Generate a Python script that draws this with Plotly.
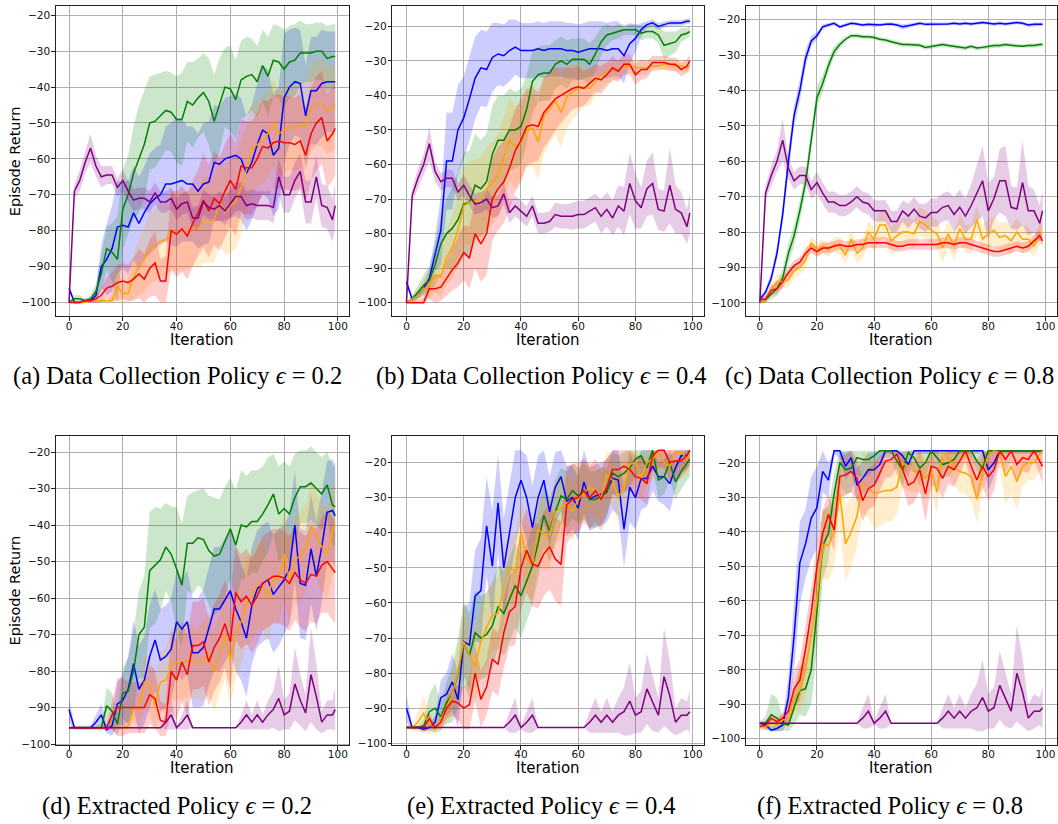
import plotly.graph_objects as go

# ---------------- data ----------------
ITER = list(range(0, 99, 2)) + [99]   # 51 iterations sampled

# (a) Data Collection Policy eps=0.2
A_BLUE = [-96, -100, -100, -99.5, -99.5, -98, -90, -88, -85, -79, -78.5, -79, -75, -78, -75,
          -72.5, -71, -70, -67, -67, -66.5, -66, -67, -67, -69, -67, -66.5, -61, -61.5, -60,
          -59.5, -59, -60, -64, -61, -56, -52, -53, -59, -57, -43, -40, -38.5, -39, -48,
          -41, -41, -39, -38.5, -38.5, -38.5]
A_BLUE_SD = [1, 0.5, 0.5, 0.5, 1, 2, 6, 10, 12, 13, 12, 13, 13, 13, 13, 14, 14, 14, 16, 17,
             18, 17, 16, 16, 16, 17, 17, 16, 16, 17, 17, 17, 17, 16, 16, 17, 18, 18, 17, 17,
             18, 16, 15, 15, 14, 15, 15, 15, 14, 14, 14]
A_GREEN = [-100, -99, -99, -99.5, -99, -97, -92, -85, -86, -88, -74, -70, -64, -60, -56,
           -50, -49.5, -48, -46.5, -47, -49, -49, -44, -45, -43, -41.5, -44, -49.5, -45, -40,
           -40.5, -43.5, -38, -37, -36.5, -38.5, -34, -37, -32.5, -33, -35, -33, -32.5, -30.5, -30.5,
           -30.5, -30, -30, -32, -31.5, -31.5]
A_GREEN_SD = [0.5, 1, 1, 0.5, 1, 2, 5, 6, 8, 12, 11, 11, 13, 15, 15, 13, 13, 12, 11, 11,
              12, 13, 11, 12, 11, 11, 12, 13, 13, 11, 12, 11, 11, 11, 10, 10, 10, 11, 10, 10,
              11, 10, 10, 9, 8, 8, 8, 8, 9, 9, 9]
A_ORANGE = [-100, -100, -100, -100, -99.5, -99.5, -99.5, -99.5, -99.5, -95.5, -97.5, -97.5, -93, -90, -88,
            -85, -84, -83, -82.5, -80, -80.5, -80, -80, -79, -79.5, -77, -77, -77, -72, -75,
            -73, -72, -68, -63, -57, -56, -55, -53, -50, -53, -52, -51, -51.5, -50.5, -51,
            -46, -44.5, -44.5, -46.5, -46, -45]
A_ORANGE_SD = [0.3, 0.3, 0.3, 0.3, 0.5, 0.5, 0.5, 0.5, 1, 4, 3, 4, 6, 8, 9, 10, 10, 10, 10, 11,
               11, 11, 11, 11, 11, 12, 12, 12, 12, 12, 13, 13, 13, 12, 12, 12, 12, 12, 12, 12,
               12, 12, 12, 12, 12, 12, 12, 12, 12, 12, 12]
A_RED = [-100, -100, -100, -99.5, -99.5, -99, -98, -96, -95.5, -94.5, -94, -94.5, -93.5, -92, -93.5,
         -90.5, -89, -94, -94, -80, -81, -79.5, -81.5, -78, -75, -71.5, -74.5, -71, -72.5, -69,
         -66, -68.5, -62, -62.5, -62.5, -60, -56.5, -57, -55.5, -55, -55.5, -55.5, -56, -55, -59,
         -53, -50, -48.5, -55, -53, -51.5]
A_RED_SD = [0.3, 0.3, 0.3, 0.5, 0.5, 1, 2, 3, 4, 5, 5, 5, 6, 7, 7, 8, 9, 6, 7, 11,
            12, 12, 12, 12, 12, 13, 13, 13, 13, 13, 13, 13, 13, 13, 13, 13, 13, 13, 13, 13,
            13, 13, 13, 13, 13, 13, 13, 13, 13, 13, 13]
A_PURPLE = [-100, -69, -66, -61, -57, -62, -65, -64.5, -64.5, -68, -66, -69, -71.5, -71, -71,
            -72, -69.5, -72, -72, -71, -74, -72.5, -72, -76.5, -76.5, -72, -73.5, -74, -73, -74.5,
            -72.5, -70.5, -70.5, -73, -72.5, -73, -73, -73, -73.5, -65, -70, -70, -66, -63.5, -72,
            -72, -65, -73, -73.5, -77, -73]
A_PURPLE_SD = [0.5, 2, 3, 3, 4, 3, 3, 2.5, 2.5, 2.5, 3, 3, 3, 3, 3, 3, 3, 3, 3, 3,
               3, 3, 3, 3, 3.5, 3.5, 3.5, 3.5, 4, 4, 4, 4, 4, 4, 4, 4, 4, 4, 4.5, 5,
               5, 5, 5, 5, 6, 6, 6, 6, 6, 6, 6]

# (b) Data Collection Policy eps=0.4
B_BLUE = [-94, -99, -98, -96, -93, -86, -79, -59, -59, -50, -46.5, -41, -35, -32, -32.5,
          -29, -28, -28.5, -27, -26, -27, -27, -27, -26.5, -27, -26.5, -26.5, -26.5, -27, -27,
          -27.5, -27, -26.5, -26.5, -26.5, -27, -26.5, -26.5, -28.5, -25, -23.5, -21, -19.5, -19, -20,
          -19.5, -19, -19, -19, -18.5, -18.5]
B_BLUE_SD = [1, 1, 1, 1.5, 3, 5, 10, 14, 14, 13, 12, 12, 12, 11, 11, 10, 9, 9, 9, 8,
             8, 8, 8, 8, 8, 8, 8, 8, 8, 8, 8, 8, 8, 8, 8, 8, 8, 8, 8, 6,
             4, 2, 1, 1, 1, 0.8, 0.8, 0.8, 0.8, 0.8, 0.8]
B_GREEN = [-100, -99, -97, -95, -93.5, -89, -83, -80, -78.5, -76, -71.5, -71, -66, -67, -65,
           -57, -53, -53, -50, -50, -49, -44, -36, -34, -33.5, -33.5, -31, -30, -31, -29.5,
           -29.5, -29.5, -31, -28, -24.5, -22.5, -22, -21.5, -21, -21, -21, -22, -21.5, -21.5, -22.5,
           -25.5, -25, -24.5, -22.5, -22, -21.5]
B_GREEN_SD = [0.5, 1, 2, 3, 4, 6, 8, 10, 12, 14, 15, 15, 15, 14, 14, 14, 13, 13, 12, 11,
              11, 10, 9, 8, 8, 8, 7, 7, 7, 6, 6, 6, 6, 5, 4, 3, 2, 2, 1.5, 1.5,
              1.5, 2, 2, 2, 2.5, 4, 3.5, 3, 2, 1.5, 1.5]
B_ORANGE = [-100, -99, -98, -96, -95, -92, -92.5, -87, -84, -79, -72, -71, -70.5, -70, -67,
            -65.5, -63, -58, -53, -55, -53.5, -50, -49.5, -53.5, -46, -44, -41.5, -45, -40.5, -39,
            -38, -37.5, -38, -36, -34, -33.5, -33, -32.5, -31.5, -31.5, -32, -32, -32, -31.5, -31.5,
            -31, -31, -31.5, -31.5, -32, -31.5]
B_ORANGE_SD = [0.5, 1, 2, 3, 4, 5, 6, 8, 9, 10, 11, 12, 12, 12, 12, 12, 12, 12, 12, 12,
               11, 11, 11, 11, 11, 10, 10, 10, 9, 8, 7, 6, 5, 4, 4, 3, 3, 2.5, 2, 2,
               2, 2, 2, 1.5, 1.5, 1.5, 1.5, 1.5, 1.5, 1.5, 1.5]
B_RED = [-100, -100, -100, -100, -96, -96, -95.5, -93, -90.5, -88.5, -85.5, -87, -80, -83, -80,
         -70, -67, -65, -61, -56, -53, -49, -48.5, -49, -45, -43, -41, -40, -39, -38,
         -37.5, -38, -36.5, -35, -35.5, -34, -32, -33, -31, -31, -34, -32.5, -32.5, -30.5, -30.5,
         -30.5, -31, -31, -32.5, -31.5, -30]
B_RED_SD = [0.3, 0.3, 0.5, 1.5, 3, 4, 4, 5, 6, 7, 8, 9, 10, 11, 12, 12, 12, 12, 12, 12,
            12, 11, 11, 10, 10, 10, 9, 8, 7, 6, 6, 5, 4.5, 4, 4, 3.5, 3.5, 3, 3, 3,
            3, 3, 2.5, 2, 2, 2, 2, 2, 2, 2, 2]
B_PURPLE = [-100, -69, -64, -60, -54, -62, -65, -64, -64, -68, -66, -69, -71.5, -71, -70,
            -72.5, -72, -68.5, -74, -72, -73.5, -75, -72, -77, -77, -76.5, -74.5, -75, -75, -75,
            -74.5, -74.5, -73.5, -72.5, -75, -73, -75.5, -72, -73.5, -65.5, -70.5, -72.5, -67, -65.5, -73,
            -73.5, -66, -73, -74, -78, -74]
B_PURPLE_SD = [0.5, 2, 3, 3, 5, 3, 2.5, 2.5, 2.5, 2.5, 3, 3, 3, 3, 3, 3, 3, 3, 3, 3,
               3, 3, 3, 3, 3, 3, 3.5, 3.5, 3.5, 4, 4, 4, 4, 4, 5, 5, 5, 6, 7, 9,
               8, 6, 8, 9, 6, 6, 11, 7, 6, 5, 6]

# (c) Data Collection Policy eps=0.8
C_BLUE = [-99, -97, -93, -86, -75, -60, -47, -40, -31, -26, -24.5, -22, -21.5, -21, -22,
          -21.5, -21, -21.2, -21.5, -21.3, -21.5, -21.5, -21.3, -21.2, -21.5, -22, -21.7, -21.3, -21, -21.3,
          -21.3, -21.2, -21.2, -21.2, -21, -21.2, -21, -21.2, -21, -20.8, -21, -21.2, -21, -21.2, -21,
          -20.8, -21, -21.5, -21.3, -21.3, -21.3]
C_BLUE_SD = [0.5, 1, 1.5, 2, 2.5, 3, 3, 3, 2.5, 1.5, 1, 0.7, 0.5, 0.5, 0.5, 0.5, 0.5, 0.5, 0.5, 0.5,
             0.5, 0.5, 0.5, 0.5, 0.5, 0.8, 0.6, 0.5, 0.5, 0.5, 0.5, 0.5, 0.5, 0.5, 0.5, 0.5, 0.5, 0.5, 0.5, 0.5,
             0.5, 0.5, 0.5, 0.5, 0.5, 0.5, 0.5, 0.5, 0.5, 0.5, 0.5]
C_GREEN = [-100, -99, -97.5, -96, -93, -86, -81, -74, -66, -54, -42, -38, -33, -29, -27,
           -25.5, -24.5, -24.5, -24.8, -24.8, -25, -25.5, -25.7, -26.2, -26.7, -27, -27, -27.2, -27.2, -27.8,
           -27.5, -27.3, -27, -27.3, -27.6, -27.8, -28, -27.5, -28, -27.8, -27.5, -27.3, -27.3, -27, -27.2,
           -27.3, -27.5, -27.3, -27.3, -27, -27]
C_GREEN_SD = [0.5, 1, 1.5, 2, 2.5, 3, 3, 3, 3, 3, 3, 2.5, 2, 1.5, 1, 0.7, 0.6, 0.6, 0.6, 0.6,
              0.6, 0.6, 0.6, 0.6, 0.6, 0.6, 0.6, 0.6, 0.6, 0.6, 0.6, 0.6, 0.6, 0.6, 0.6, 0.6, 0.6, 0.6, 0.6, 0.6,
              0.6, 0.6, 0.6, 0.6, 0.6, 0.6, 0.6, 0.6, 0.6, 0.6, 0.6]
C_ORANGE = [-100, -99, -96, -94, -94, -93.5, -91, -90, -88, -83, -85, -84, -85, -83.5, -84,
            -86.5, -82, -86, -84.5, -80, -82, -78, -78, -82.5, -81, -80, -80, -80.5, -77, -78,
            -79.5, -80.5, -84.5, -80.5, -84, -79, -82, -82, -76.5, -82, -80.5, -79.5, -81.5, -81, -82.5,
            -80, -82, -82, -84, -80.5, -80]
C_ORANGE_SD = [0.5, 1, 2, 2, 2, 2, 2, 2, 2.5, 2, 2, 2, 2, 2, 2.5, 2.5, 2.5, 3, 3, 3,
               3.5, 4, 4, 4, 4, 4, 4, 4, 4, 4, 4, 4, 4, 4, 4, 4, 4, 4, 4, 4,
               4, 4, 4, 4, 4, 4, 4, 3.5, 3, 3, 3]
C_RED = [-99, -99, -96.5, -96, -94, -91.5, -89.5, -88.5, -86, -84.5, -85.5, -84.5, -84.5, -84, -83.5,
         -84, -84, -83.5, -83.5, -83, -83, -83, -83, -83.5, -84, -84, -83.5, -83.5, -83.5, -83.5,
         -83.5, -83.5, -83, -83, -83.5, -83, -83, -83.5, -84, -84.5, -85, -85.5, -85.5, -85, -84.5,
         -84, -84.5, -84, -82.5, -81, -82.5]
C_RED_SD = [0.5, 1, 1.5, 1.5, 1.5, 1.5, 1.5, 1.5, 1.5, 1.5, 1.5, 1.5, 1.5, 1.5, 1.5, 1.5, 1.5, 1.5, 1.5, 1.5,
            1.5, 1.5, 1.5, 1.5, 1.5, 1.5, 1.5, 1.5, 1.5, 1.5, 1.5, 1.5, 1.5, 1.5, 1.5, 1.5, 1.5, 1.5, 1.5, 1.5,
            1.5, 1.5, 1.5, 1.5, 1.5, 1.5, 1.5, 1.5, 1.5, 1.5, 1.5]
C_PURPLE = [-100, -69, -64, -60, -54, -62, -65.5, -64, -64, -68, -66, -69, -71.5, -71.5, -72.5,
            -72.5, -71.5, -70, -71.5, -72, -74, -74, -74, -77, -77, -74, -75.5, -73.5, -75.5, -76,
            -74.5, -74.5, -73, -72.5, -75, -73, -75.5, -72.5, -69, -65.5, -74, -70.5, -65.5, -65.5, -73,
            -73.5, -66, -74, -74, -77.5, -74]
C_PURPLE_SD = [0.5, 2, 3, 3, 6, 3, 2.5, 2.5, 2.5, 2.5, 3, 3, 3, 3, 3, 3, 3, 3, 3, 3,
               3, 3, 3, 3, 3, 3, 3.5, 3.5, 3.5, 4, 4, 4, 4, 4, 5, 5, 5, 6, 8, 10,
               8, 6, 9, 10, 6, 6, 12, 7, 6, 5, 6]

# (d) Extracted Policy eps=0.2
D_BLUE = [-90.5, -95.5, -95.5, -95.5, -95.5, -94, -92, -96, -95, -89, -88, -85, -78, -85, -82.5,
          -76, -71.5, -77, -76, -74, -66.5, -68.5, -66.5, -75, -75, -73.5, -68, -63, -63, -60.5,
          -58, -63, -66.5, -71, -62, -57.5, -56, -55, -59, -57, -55, -52, -40, -56, -56.5,
          -46.5, -54, -46, -36.5, -36, -37.5]
D_BLUE_SD = [3.5, 0.5, 0.5, 0.5, 0.5, 2, 3, 1, 3, 6, 7, 9, 12, 12, 12, 14, 14, 14, 14, 14,
             14, 14, 14, 15, 15, 16, 16, 17, 17, 17, 17, 17, 16, 16, 16, 16, 16, 16, 16, 16,
             15, 15, 15, 15, 15, 15, 15, 15, 14, 14, 14]
D_GREEN = [-95.5, -95.5, -95.5, -95.5, -95.5, -95.5, -95.5, -89.5, -91, -94.5, -86, -85.5, -80, -70, -68,
           -52.5, -51, -49.5, -46, -48, -52, -56.5, -45, -45, -43.5, -44, -47, -48.5, -48, -44.5,
           -41, -45.5, -40, -40.5, -39, -39, -37, -34.5, -31.5, -37, -35.5, -37, -32.5, -29.5, -29.5,
           -28.5, -30, -31.5, -29, -34.5, -35]
D_GREEN_SD = [0.5, 0.5, 0.5, 0.5, 0.5, 0.5, 1, 5, 5, 3, 7, 9, 11, 12, 14, 16, 16, 14, 12, 13,
              17, 17, 13, 14, 13, 14, 15, 16, 15, 15, 14, 15, 15, 14, 14, 14, 13, 13, 11, 13,
              13, 13, 12, 10, 10, 10, 10, 10, 9, 11, 11]
D_ORANGE = [-95.5, -95.5, -95.5, -95.5, -95.5, -95.5, -95.5, -95.5, -95.5, -95.5, -95.5, -95, -90.5, -90.5, -83,
            -83.5, -89.5, -83, -82.5, -78.5, -77.5, -78, -77, -77.5, -78, -77, -75.5, -80, -75.5, -70,
            -77, -70, -66.5, -61, -60, -56.5, -56.5, -60, -54, -55, -48, -55, -49.5, -48.5, -46.5,
            -40, -43, -46, -48, -42, -40]
D_ORANGE_SD = [0.3, 0.3, 0.3, 0.3, 0.3, 0.3, 0.3, 0.3, 0.3, 0.3, 0.5, 1, 3, 5, 7, 8, 7, 8, 9, 10,
               10, 10, 10, 10, 10, 11, 11, 11, 11, 12, 12, 12, 12, 12, 12, 12, 12, 12, 12, 12,
               12, 12, 12, 12, 12, 12, 12, 12, 12, 12, 12]
D_RED = [-95.5, -95.5, -95.5, -95.5, -95.5, -95.5, -95.5, -95.5, -92, -90, -90, -90, -90, -90, -90,
         -86.5, -87.5, -93.5, -94, -80, -82.5, -77.5, -81, -73, -73, -72, -77.5, -73.5, -71, -67,
         -72, -58.5, -61, -59.5, -62, -59.5, -56, -55, -54, -54, -54.5, -56, -53, -55, -56,
         -53.5, -54, -51, -50, -52, -53]
D_RED_SD = [0.3, 0.3, 0.3, 0.3, 0.3, 0.3, 0.3, 1, 4, 8, 8, 7, 7, 7, 7, 8, 8, 5, 5, 11,
            11, 11, 11, 12, 12, 12, 12, 12, 12, 12, 13, 13, 13, 13, 13, 13, 13, 13, 13, 13,
            13, 13, 13, 13, 13, 13, 13, 13, 14, 14, 14]
D_PURPLE = [-95.5, -95.5, -95.5, -95.5, -95.5, -95.5, -95.5, -95.5, -95.5, -95.5, -95.5, -95.5, -95.5, -95.5, -95.5,
            -95.5, -95.5, -95.5, -94, -92, -95.5, -94, -92, -95.5, -95.5, -95.5, -95.5, -95.5, -95.5, -95.5,
            -95.5, -95.5, -94, -92, -94, -92, -94, -92, -90.5, -87.5, -92, -91, -83.5, -88, -91.5,
            -81, -87, -94, -92, -92, -90.5]
D_PURPLE_SD = [0, 0, 0, 0, 0, 0, 0, 0, 0, 0, 0, 0, 0, 0, 0, 0, 0, 0, 2, 4,
               0.5, 2, 4, 0, 0, 0, 0, 0, 0, 0, 0, 0, 2, 4, 2, 4, 2, 4, 5, 9,
               4, 5, 10, 7, 5, 13, 9, 3, 4, 4, 6]

# (e) Extracted Policy eps=0.4
E_BLUE = [-90, -95.5, -95.5, -96, -95.5, -94, -87, -86, -82.5, -87.5, -71, -72, -58, -56.5, -38,
          -49.5, -31.5, -50, -40, -30, -25, -30, -38.5, -30, -25, -34, -27, -24, -31, -30,
          -33, -25.5, -30.5, -29.5, -29, -28, -24.5, -25, -39, -27, -30, -24.5, -24.5, -21, -24,
          -24, -26, -21.5, -18, -18, -16.5]
E_BLUE_SD = [4, 0.5, 0.5, 0.5, 1, 2, 5, 6, 8, 8, 10, 12, 13, 15, 14, 16, 14, 14, 14, 14,
             12, 12, 12, 12, 12, 10, 10, 10, 10, 9, 9, 9, 9, 9, 9, 9, 9, 10, 11, 10,
             9, 9, 8, 7, 7, 8, 8, 6, 5, 4, 4]
E_GREEN = [-95.5, -95.5, -95.5, -95, -91, -90, -92.5, -88.5, -86, -80, -71.5, -75, -68.5, -70, -69,
           -66.5, -61, -63, -59, -55, -58, -54, -49.5, -43, -35, -39.5, -34, -29.5, -30.5, -28,
           -29.5, -28, -30.5, -30.5, -29.5, -28.5, -23, -24, -23, -21.5, -19, -18, -21.5, -16.5, -25,
           -24, -20, -25.5, -22.5, -20, -19]
E_GREEN_SD = [0.5, 0.5, 0.5, 2, 5, 7, 4, 6, 8, 10, 12, 12, 12, 12, 12, 12, 12, 12, 12, 12,
              12, 11, 11, 10, 9, 9, 9, 8, 8, 8, 8, 8, 8, 8, 8, 7, 6, 6, 6, 5,
              5, 5, 5, 5, 5, 5, 5, 5, 5, 5, 5]
E_ORANGE = [-95.5, -95.5, -94, -91.5, -94.5, -96, -93, -90, -86, -79.5, -71, -75, -78, -71, -67,
            -63.5, -63, -55.5, -50, -51, -40, -47.5, -49, -39, -40.5, -40.5, -34, -33, -31.5, -34,
            -30.5, -28.5, -27, -28, -30, -23.5, -25, -30, -27, -20.5, -20, -24.5, -20, -19, -17,
            -20, -21, -17, -17, -19, -17]
E_ORANGE_SD = [0.5, 1, 3, 5, 3, 1, 2, 4, 6, 8, 10, 10, 10, 10, 10, 10, 10, 10, 10, 10,
               10, 10, 10, 10, 10, 10, 9, 9, 8, 8, 8, 8, 7, 7, 7, 7, 7, 7, 7, 6,
               6, 6, 6, 6, 5, 5, 5, 5, 5, 5, 5]
E_RED = [-95.5, -95.5, -95.5, -95.5, -93, -95.5, -94, -90, -88, -88.5, -90, -89, -80, -87.5, -84,
         -76, -77.5, -68.5, -62.5, -61, -50, -45, -49, -49.5, -46, -44, -47.5, -49, -32, -30.5,
         -30, -28, -30, -28, -30.5, -27, -22, -22, -21, -22, -24, -24.5, -26, -18, -16.5,
         -16.5, -20, -19.5, -19.5, -18, -16.5]
E_RED_SD = [0.3, 0.3, 0.3, 0.5, 2, 0.5, 2, 3, 4, 5, 6, 7, 8, 8, 8, 9, 9, 10, 10, 11,
            12, 12, 12, 12, 12, 12, 12, 12, 11, 10, 10, 9, 9, 9, 9, 8, 7, 7, 7, 6,
            6, 6, 6, 5, 5, 5, 5, 5, 5, 4, 4]
E_PURPLE = [-95.5, -95.5, -95.5, -95.5, -95.5, -95.5, -95.5, -95.5, -95.5, -95.5, -95.5, -95.5, -95.5, -95.5, -95.5,
            -95.5, -95.5, -95.5, -94, -92, -95.5, -94, -92, -95.5, -95.5, -95.5, -95.5, -95.5, -95.5, -95.5,
            -95.5, -95.5, -94, -92, -94, -92, -94, -92, -91, -88, -92, -91, -84.5, -88.5, -92,
            -81, -86.5, -94, -92, -92, -91]
E_PURPLE_SD = [0, 0, 0, 0, 0, 0, 0, 0, 0, 0, 0, 0, 0, 0, 0, 0, 0, 0, 3, 5,
               0.5, 3, 5, 0, 0, 0, 0, 0, 0, 0, 0, 0, 3, 5, 3, 5, 3, 5, 7, 11,
               5, 6, 10, 8, 5, 14, 10, 4, 5, 4, 6]

# (f) Extracted Policy eps=0.8
F_BLUE = [-95.5, -96, -97.5, -97, -96, -88, -70, -49, -43.5, -36, -33, -22.5, -25, -16.5, -16.5,
          -21, -18.5, -26.5, -24.5, -22, -22, -20.5, -16.5, -16.5, -16.5, -18, -20.5, -16.5, -16.5, -16.5,
          -16.5, -16.5, -16.5, -16.5, -16.5, -16.5, -16.5, -16.5, -16.5, -16.5, -22, -20, -16.5, -16.5, -16.5,
          -16.5, -16.5, -16.5, -16.5, -16.5, -16.5]
F_BLUE_SD = [0.5, 1, 1, 1, 2, 6, 10, 12, 10, 12, 12, 6, 5, 1, 2, 4, 4, 5, 5, 5,
             5, 4, 1, 1, 1, 3, 4, 1, 0.8, 0.8, 0.8, 0.8, 0.8, 0.8, 0.8, 0.8, 0.8, 0.8, 0.8, 0.8,
             6, 4, 1, 0.8, 0.8, 0.8, 0.8, 0.8, 0.8, 0.8, 0.8]
F_GREEN = [-95.5, -95.5, -93, -94, -95.5, -96, -91, -86, -85.5, -80, -63, -44, -40.5, -29, -20,
           -22, -21.5, -18.5, -19, -19, -18, -16.5, -16.5, -16.5, -19.5, -22, -17, -18.5, -21.5, -20,
           -16.5, -18.5, -20.5, -20, -19, -16.5, -16.5, -16.5, -19.5, -21.5, -16.5, -16.5, -16.5, -16.5, -16.5,
           -16.5, -16.5, -16.5, -16.5, -16.5, -16.5]
F_GREEN_SD = [0.5, 2, 6, 6, 2, 2, 5, 7, 8, 10, 12, 10, 8, 6, 6, 7, 7, 5, 5, 5,
              4, 2, 2, 2, 4, 5, 3, 4, 5, 4, 3, 4, 4, 4, 3, 3, 2, 2, 3, 4,
              1, 0.5, 0.5, 0.5, 0.5, 0.5, 0.5, 0.5, 0.5, 0.5, 0.5]
F_ORANGE = [-96, -96.5, -95.5, -96, -94.5, -94.5, -88, -86, -80, -70, -60, -43.5, -44, -40, -29,
            -43.5, -40, -35.5, -25.5, -27, -29, -28.5, -28, -28, -27, -20, -21, -22.5, -22.5, -24.5,
            -22, -28.5, -17, -18.5, -21.5, -22.5, -23, -24, -30.5, -22.5, -18, -16.5, -17, -24, -21,
            -25.5, -21, -20, -20, -17.5, -16.5]
F_ORANGE_SD = [0.5, 1, 1, 1, 2, 2, 4, 6, 8, 9, 10, 10, 10, 10, 10, 11, 10, 9, 9, 9,
               10, 10, 9, 9, 8, 7, 7, 6, 6, 6, 6, 6, 5, 5, 5, 6, 6, 7, 7, 6,
               5, 4, 5, 8, 8, 8, 6, 5, 5, 5, 5]
F_RED = [-96.5, -96, -94, -95, -94, -92, -85.5, -83, -74, -63.5, -50, -40.5, -35, -39.5, -24,
         -23.5, -22.5, -24.5, -31, -27.5, -26.5, -23, -19.5, -19, -17.5, -22, -26.5, -25.5, -22, -29,
         -21, -21.5, -24.5, -21, -22, -19.5, -16.5, -21, -25, -21, -24, -22, -16.5, -19, -16.5,
         -20.5, -18.5, -19, -16.5, -19.5, -21]
F_RED_SD = [1, 1, 1.5, 1, 1.5, 3, 5, 6, 7, 7, 7, 7, 6, 6, 6, 6, 6, 6, 6, 6,
            6, 5, 5, 5, 4, 5, 6, 6, 6, 8, 6, 5, 6, 5, 5, 4, 3, 5, 6, 6,
            7, 6, 3, 4, 3, 5, 4, 4, 3, 4, 5]
F_PURPLE = [-95.5, -95.5, -95.5, -95.5, -95.5, -95.5, -95.5, -95.5, -95.5, -95.5, -95.5, -95.5, -95.5, -95.5, -95.5,
            -95.5, -95.5, -95.5, -94, -92, -95.5, -94, -92, -95.5, -95.5, -95.5, -95.5, -95.5, -95.5, -95.5,
            -95.5, -95.5, -94, -92, -94, -92, -94, -92, -91, -88, -92, -91, -84.5, -88.5, -92,
            -81, -86.5, -94, -92, -92, -91]
F_PURPLE_SD = [0, 0, 0, 0, 0, 0, 0, 0, 0, 0, 0, 0, 0, 0, 0, 0, 0, 0, 3, 5,
               0.5, 3, 5, 0, 0, 0, 0, 0, 0, 0, 0, 0, 3, 5, 3, 5, 3, 5, 7, 11,
               5, 6, 10, 8, 5, 14, 10, 4, 5, 4, 6]

CAPTIONS = ["(a) Data Collection Policy <i>ϵ</i> = 0.2", "(b) Data Collection Policy <i>ϵ</i> = 0.4",
            "(c) Data Collection Policy <i>ϵ</i> = 0.8", "(d) Extracted Policy <i>ϵ</i> = 0.2",
            "(e) Extracted Policy <i>ϵ</i> = 0.4", "(f) Extracted Policy <i>ϵ</i> = 0.8"]
X_TICKS = [0, 20, 40, 60, 80, 100]
Y_TICKS = [-100, -90, -80, -70, -60, -50, -40, -30, -20]

# ---------------- styling / layout ----------------
COLORS = {"blue": (0, 0, 255), "green": (0, 128, 0), "orange": (255, 165, 0),
          "red": (255, 0, 0), "purple": (128, 0, 128)}
PANELS = [
    {"blue": (A_BLUE, A_BLUE_SD), "green": (A_GREEN, A_GREEN_SD), "orange": (A_ORANGE, A_ORANGE_SD),
     "red": (A_RED, A_RED_SD), "purple": (A_PURPLE, A_PURPLE_SD)},
    {"blue": (B_BLUE, B_BLUE_SD), "green": (B_GREEN, B_GREEN_SD), "orange": (B_ORANGE, B_ORANGE_SD),
     "red": (B_RED, B_RED_SD), "purple": (B_PURPLE, B_PURPLE_SD)},
    {"blue": (C_BLUE, C_BLUE_SD), "green": (C_GREEN, C_GREEN_SD), "orange": (C_ORANGE, C_ORANGE_SD),
     "red": (C_RED, C_RED_SD), "purple": (C_PURPLE, C_PURPLE_SD)},
    {"blue": (D_BLUE, D_BLUE_SD), "green": (D_GREEN, D_GREEN_SD), "orange": (D_ORANGE, D_ORANGE_SD),
     "red": (D_RED, D_RED_SD), "purple": (D_PURPLE, D_PURPLE_SD)},
    {"blue": (E_BLUE, E_BLUE_SD), "green": (E_GREEN, E_GREEN_SD), "orange": (E_ORANGE, E_ORANGE_SD),
     "red": (E_RED, E_RED_SD), "purple": (E_PURPLE, E_PURPLE_SD)},
    {"blue": (F_BLUE, F_BLUE_SD), "green": (F_GREEN, F_GREEN_SD), "orange": (F_ORANGE, F_ORANGE_SD),
     "red": (F_RED, F_RED_SD), "purple": (F_PURPLE, F_PURPLE_SD)},
]
# bounds of achievable return (bands are clipped to these)
FLOOR = [-100, -100, -100, -97.8, -97.8, -97.8]
CEIL = [-17.0, -17.0, -17.0, -16.5, -16.5, -16.5]
Y_RANGES = [[-103.9, -17.4], [-104.0, -14.1], [-103.85, -16.1],
            [-100.35, -15.5], [-100.6, -12.3], [-101.9, -12.1]]

W, H = 1058, 824
COL_PX = [(55.7, 348.5), (392.3, 704.0), (745.7, 1056.7)]
ROW_PX = [(6.0, 318.0), (437.7, 749.0)]
CAPTION_X = [177, 541, 889.5]
CAPTION_Y = [378, 810]
ITER_LABEL_Y = [342, 772]

for p in PANELS:
    for k, (m, s) in p.items():
        assert len(m) == len(ITER) and len(s) == len(ITER), (k, len(m), len(s))

fig = go.Figure()
ORDER = ["blue", "green", "orange", "red", "purple"]
for i, p in enumerate(PANELS):
    ax = "" if i == 0 else str(i + 1)
    for name in ORDER:
        m, s = p[name]
        r, g, b = COLORS[name]
        up = [min(v + d, CEIL[i]) if v + d > CEIL[i] else v + d for v, d in zip(m, s)]
        lo = [max(v - d, FLOOR[i]) for v, d in zip(m, s)]
        fig.add_trace(go.Scatter(x=ITER + ITER[::-1], y=up + lo[::-1], fill="toself",
                                 fillcolor=f"rgba({r},{g},{b},0.2)", line=dict(width=0),
                                 mode="lines", hoverinfo="skip", showlegend=False,
                                 xaxis="x" + ax, yaxis="y" + ax))
    for name in ORDER:
        m, s = p[name]
        r, g, b = COLORS[name]
        fig.add_trace(go.Scatter(x=ITER, y=m, mode="lines",
                                 line=dict(color=f"rgb({r},{g},{b})", width=1.5),
                                 showlegend=False, xaxis="x" + ax, yaxis="y" + ax))

layout = dict(width=W, height=H, margin=dict(l=0, r=0, t=0, b=0),
              paper_bgcolor="white", plot_bgcolor="white", showlegend=False,
              font=dict(family="DejaVu Sans", color="black"))
axis_common = dict(showgrid=True, gridcolor="#b0b0b0", gridwidth=1, zeroline=False,
                   showline=True, mirror=True, linecolor="#222", linewidth=1,
                   ticks="outside", ticklen=3.5, tickwidth=0.8, tickcolor="#222",
                   tickfont=dict(family="DejaVu Sans", size=10.5, color="#111"))
annotations = []
for i in range(6):
    row, col = divmod(i, 3)
    x0, x1 = COL_PX[col]
    y0, y1 = ROW_PX[row]
    ax = "" if i == 0 else str(i + 1)
    layout["xaxis" + ax] = dict(axis_common, domain=[x0 / W, x1 / W], anchor="y" + ax,
                                range=[-4.95, 103.95], tickvals=X_TICKS, ticklabelstandoff=-4)
    layout["yaxis" + ax] = dict(axis_common, domain=[1 - y1 / H, 1 - y0 / H], anchor="x" + ax,
                                range=Y_RANGES[i], tickvals=Y_TICKS, ticklabelstandoff=-1)
    annotations.append(dict(text="Iteration", x=(x0 + x1) / 2 / W, y=1 - ITER_LABEL_Y[row] / H,
                            xref="paper", yref="paper", showarrow=False, xanchor="center",
                            yanchor="middle", font=dict(family="DejaVu Sans", size=15, color="black")))
    annotations.append(dict(text=CAPTIONS[i], x=CAPTION_X[col] / W, y=1 - CAPTION_Y[row] / H,
                            xref="paper", yref="paper", showarrow=False, xanchor="center",
                            yanchor="middle",
                            font=dict(family="Liberation Serif", size=24.5, color="black")))
    if col == 0:
        annotations.append(dict(text="Episode Return", x=15 / W, y=1 - (y0 + y1) / 2 / H,
                                xref="paper", yref="paper", showarrow=False, textangle=-90,
                                xanchor="center", yanchor="middle",
                                font=dict(family="DejaVu Sans", size=14.5, color="black")))
layout["annotations"] = annotations
fig.update_layout(**layout)
fig.write_html("out.html", config={"displayModeBar": False},
               post_script="document.body.style.margin='0px';document.body.style.overflow='hidden';")
